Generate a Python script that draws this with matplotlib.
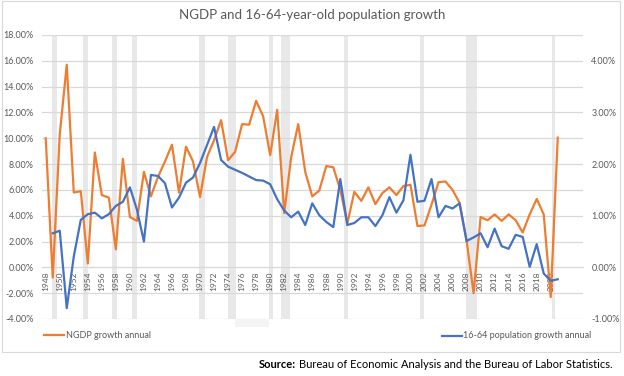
import matplotlib.pyplot as plt
import matplotlib.ticker as mticker
from matplotlib.patches import Rectangle
from matplotlib.lines import Line2D

plt.rcParams['font.family'] = ['Lato', 'DejaVu Sans']

years = list(range(1948, 2022))

# NGDP growth, % (left axis)
ngdp = [10.0, -0.8, 10.3, 15.7, 5.8, 5.9, 0.3, 8.9, 5.6, 5.4,
        1.4, 8.4, 3.9, 3.6, 7.4, 5.5, 7.0, 8.2, 9.5, 5.8,
        9.35, 8.2, 5.45, 8.55, 9.85, 11.4, 8.3, 8.95, 11.1, 11.05,
        12.9, 11.7, 8.7, 12.2, 4.2, 8.55, 11.1, 7.4, 5.5, 5.95,
        7.85, 7.75, 6.0, 3.4, 5.85, 5.15, 6.2, 4.9, 5.75, 6.2,
        5.6, 6.3, 6.4, 3.2, 3.25, 4.85, 6.6, 6.65, 6.0, 5.0,
        2.1, -2.0, 3.9, 3.65, 4.1, 3.6, 4.1, 3.65, 2.7, 4.1,
        5.3, 4.1, -2.3, 10.05]

# 16-64 population growth, % (right axis), starts 1949
pop_years = list(range(1949, 2022))
pop = [0.66, 0.71, -0.79, 0.21, 0.92, 1.03, 1.06, 0.95, 1.03,
       1.19, 1.27, 1.55, 1.12, 0.50, 1.79, 1.77, 1.63, 1.16, 1.35,
       1.64, 1.74, 2.02, 2.37, 2.72, 2.08, 1.95, 1.89, 1.83, 1.76,
       1.69, 1.68, 1.61, 1.32, 1.10, 0.97, 1.08, 0.82, 1.24, 1.01,
       0.88, 0.78, 1.71, 0.82, 0.86, 0.97, 0.97, 0.80, 1.01, 1.36,
       1.06, 1.30, 2.18, 1.27, 1.29, 1.71, 0.97, 1.19, 1.14, 1.24,
       0.51, 0.58, 0.66, 0.39, 0.75, 0.41, 0.36, 0.63, 0.59, 0.01,
       0.45, -0.12, -0.26, -0.23]

# recession shading (start, end) in year units
rec_start = [1948.86, 1953.36, 1957.5, 1960.26, 1969.9, 1973.95, 1979.88,
             1981.55, 1990.57, 2001.37, 2007.92, 2020.23]
rec_end = [1949.65, 1954.07, 1958.12, 1961.06, 1970.71, 1975.09, 1980.36,
           1982.83, 1991.14, 2001.94, 2009.53, 2020.6]

orange = '#ED7D31'
blue = '#4472C4'
grey_txt = '#595959'

fig = plt.figure(figsize=(6.24, 3.76), dpi=100)
ax = fig.add_axes([42 / 624, 1 - 319 / 376, (583 - 42) / 624, (319 - 35) / 376])

for s, e in zip(rec_start, rec_end):
    ax.axvspan(s, e, color='#e8e8e8', lw=0, zorder=0)

ax.set_ylim(-4, 18)
ax.set_xlim(1947.47, 2024.6)
ax.yaxis.set_major_locator(mticker.MultipleLocator(2))
ax.yaxis.set_major_formatter(mticker.FuncFormatter(lambda v, p: f'{v:.2f}%'))
ax.grid(axis='y', color='#d9d9d9', lw=0.9, zorder=1)
ax.set_axisbelow(True)

ax.plot(years, ngdp, color=orange, lw=1.6, zorder=3)

for sp in ['top', 'right', 'left']:
    ax.spines[sp].set_visible(False)
ax.spines['bottom'].set_position(('data', 0))
ax.spines['bottom'].set_color('#d9d9d9')
ax.set_xticks(range(1948, 2021, 2))
ax.tick_params(axis='x', length=0, labelsize=6, labelcolor=grey_txt,
               labelrotation=90, pad=3)
ax.tick_params(axis='y', length=0, labelsize=6.5, labelcolor=grey_txt, pad=6)

ax2 = ax.twinx()
ax2.set_ylim(-1, 4.5)
ax2.yaxis.set_major_locator(mticker.MultipleLocator(1))
ax2.yaxis.set_major_formatter(mticker.FuncFormatter(lambda v, p: f'{v:.2f}%'))
ax2.plot(pop_years, pop, color=blue, lw=1.6, zorder=3)
for sp in ax2.spines.values():
    sp.set_visible(False)
ax2.tick_params(axis='y', length=0, labelsize=6.5, labelcolor=grey_txt, pad=6)

# chart border and faint artifact patch
fig.patches.append(Rectangle((2 / 624, 1 - 352 / 376), 618 / 624, 351 / 376,
                             transform=fig.transFigure, fill=False,
                             edgecolor='#d9d9d9', lw=0.8))
fig.patches.append(Rectangle((235 / 624, 1 - 327 / 376), 34 / 624, 22 / 376,
                             transform=fig.transFigure, color='#f4f4f4',
                             lw=0, zorder=-1))

fig.text(312 / 624, 1 - 15 / 376, 'NGDP and 16-64-year-old population growth',
         ha='center', va='center', fontsize=9.5, color=grey_txt)

# legend entries
fig.lines.append(Line2D([44 / 624, 64 / 624], [1 - 335 / 376] * 2,
                        transform=fig.transFigure, color=orange, lw=1.6))
fig.text(66 / 624, 1 - 335 / 376, 'NGDP growth annual', ha='left', va='center',
         fontsize=6.5, color=grey_txt)
fig.lines.append(Line2D([442 / 624, 462 / 624], [1 - 336 / 376] * 2,
                        transform=fig.transFigure, color=blue, lw=1.6))
fig.text(463 / 624, 1 - 336 / 376, '16-64 population growth annual', ha='left',
         va='center', fontsize=6.5, color=grey_txt)

body = fig.text(613 / 624, 1 - 364 / 376,
                'Bureau of Economic Analysis and the Bureau of Labor Statistics.',
                ha='right', va='center', fontsize=8, color='black')
fig.canvas.draw()
bb = body.get_window_extent()
fig.text((bb.x0 - 3) / 624, 1 - 364 / 376, 'Source:', ha='right', va='center',
         fontsize=8, fontweight='bold', color='black')

fig.savefig('out.png', dpi=100)
